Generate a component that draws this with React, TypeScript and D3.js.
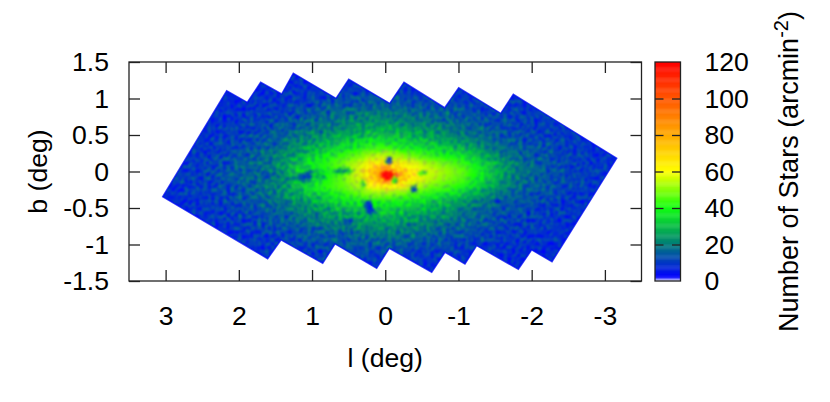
import React, { useEffect, useRef } from 'react'
import * as d3 from 'd3'

// l (deg) of each column and b (deg) of each row in densityRows
const lValues = [3.2, 3.0, 2.8, 2.6, 2.4, 2.2, 2.0, 1.8, 1.6, 1.4, 1.2, 1.0, 0.8, 0.6, 0.4, 0.2, 0, -0.2, -0.4, -0.6, -0.8, -1.0, -1.2, -1.4, -1.6, -1.8, -2.0, -2.2, -2.4, -2.6, -2.8, -3.0, -3.2]
const bValues = [1.4, 1.3, 1.2, 1.1, 1.0, 0.9, 0.8, 0.7, 0.6, 0.5, 0.4, 0.3, 0.2, 0.1, 0, -0.1, -0.2, -0.3, -0.4, -0.5, -0.6, -0.7, -0.8, -0.9, -1.0, -1.1, -1.2, -1.3, -1.4]

// stars per arcmin^2
const densityRows = [
  [7, 7, 7, 7, 7, 7, 7, 7, 7, 7, 7, 7, 7, 7, 7, 7, 7, 7, 7, 7, 7, 7, 7, 7, 7, 7, 7, 7, 7, 7, 7, 7, 7],
  [7, 7, 7, 7, 7, 7, 7, 7, 7, 8, 8, 8, 8, 8, 8, 8, 8, 8, 8, 8, 8, 8, 8, 8, 8, 8, 7, 7, 7, 7, 7, 7, 7],
  [7, 7, 7, 7, 7, 7, 7, 8, 8, 8, 9, 8, 9, 10, 9, 10, 9, 9, 9, 8, 8, 8, 8, 8, 8, 7, 7, 7, 7, 7, 7, 7, 7],
  [7, 7, 7, 7, 7, 7, 8, 8, 8, 9, 9, 10, 10, 11, 11, 11, 11, 11, 10, 10, 9, 10, 9, 9, 8, 8, 8, 7, 7, 7, 7, 7, 7],
  [7, 7, 7, 7, 7, 8, 8, 9, 9, 10, 10, 11, 12, 13, 13, 14, 14, 13, 12, 12, 11, 11, 10, 10, 9, 9, 8, 8, 8, 7, 7, 7, 7],
  [7, 7, 7, 7, 8, 8, 9, 9, 10, 10, 11, 12, 14, 15, 15, 16, 16, 15, 14, 13, 13, 12, 11, 11, 10, 10, 9, 9, 8, 8, 7, 7, 7],
  [7, 7, 7, 8, 8, 9, 9, 10, 11, 11, 13, 14, 16, 17, 18, 19, 19, 18, 17, 16, 15, 14, 13, 12, 11, 11, 10, 10, 9, 8, 8, 7, 7],
  [7, 7, 8, 8, 8, 9, 10, 11, 11, 13, 14, 16, 18, 19, 21, 22, 22, 21, 20, 19, 17, 16, 15, 13, 12, 12, 11, 10, 10, 9, 8, 8, 7],
  [7, 7, 8, 8, 9, 10, 10, 11, 13, 14, 16, 18, 20, 22, 24, 26, 26, 25, 23, 22, 20, 18, 16, 15, 13, 12, 11, 11, 10, 9, 9, 8, 7],
  [7, 8, 8, 9, 9, 10, 11, 12, 14, 15, 18, 21, 23, 26, 28, 30, 30, 29, 27, 25, 23, 20, 18, 16, 14, 13, 12, 11, 10, 10, 9, 8, 8],
  [7, 8, 8, 9, 10, 11, 12, 13, 15, 18, 21, 24, 27, 30, 33, 36, 36, 34, 32, 29, 27, 24, 21, 18, 16, 14, 13, 12, 11, 10, 9, 8, 8],
  [7, 8, 9, 9, 10, 11, 13, 14, 16, 20, 24, 28, 32, 36, 40, 44, 44, 41, 38, 35, 33, 30, 26, 21, 18, 15, 14, 13, 11, 10, 9, 9, 8],
  [8, 8, 9, 10, 11, 12, 14, 15, 18, 22, 27, 33, 38, 43, 47, 53, 56, 52, 47, 43, 40, 37, 32, 26, 21, 17, 15, 13, 12, 11, 10, 9, 8],
  [8, 8, 9, 10, 11, 13, 14, 16, 19, 24, 30, 36, 42, 47, 54, 65, 72, 66, 58, 52, 48, 44, 38, 31, 24, 19, 16, 14, 12, 11, 10, 9, 8],
  [8, 9, 10, 10, 12, 13, 15, 17, 18, 22, 30, 33, 38, 42, 56, 74, 92, 76, 62, 56, 52, 48, 41, 33, 26, 20, 17, 15, 13, 12, 11, 9, 8],
  [8, 9, 10, 11, 11, 13, 15, 16, 19, 21, 26, 31, 40, 46, 54, 70, 95, 80, 64, 54, 50, 46, 40, 32, 24, 19, 16, 14, 12, 11, 10, 9, 8],
  [8, 8, 9, 10, 11, 12, 14, 16, 19, 23, 29, 37, 42, 46, 51, 60, 67, 62, 54, 48, 45, 41, 34, 28, 22, 18, 15, 14, 12, 11, 10, 9, 8],
  [7, 8, 9, 10, 11, 12, 13, 15, 18, 22, 27, 32, 37, 41, 45, 49, 50, 47, 44, 41, 37, 33, 27, 22, 19, 15, 14, 13, 11, 10, 9, 8, 8],
  [7, 8, 8, 9, 10, 11, 13, 14, 16, 19, 23, 27, 31, 35, 37, 39, 40, 38, 36, 33, 30, 26, 22, 19, 16, 14, 13, 12, 10, 10, 9, 8, 7],
  [7, 8, 8, 9, 10, 11, 12, 13, 15, 17, 20, 23, 26, 29, 31, 33, 33, 32, 30, 28, 25, 22, 19, 16, 14, 13, 12, 11, 10, 9, 9, 8, 7],
  [7, 7, 8, 9, 9, 10, 11, 12, 14, 15, 18, 20, 23, 25, 26, 28, 29, 27, 26, 24, 22, 19, 16, 15, 13, 12, 11, 10, 10, 9, 8, 8, 7],
  [7, 7, 8, 8, 9, 10, 10, 11, 13, 14, 16, 18, 20, 21, 23, 24, 25, 24, 22, 20, 19, 17, 15, 14, 12, 11, 11, 10, 9, 8, 8, 7, 7],
  [7, 7, 7, 8, 8, 9, 10, 11, 12, 13, 14, 15, 17, 18, 19, 20, 21, 20, 19, 18, 16, 15, 14, 12, 11, 10, 10, 9, 9, 8, 7, 7, 7],
  [7, 7, 7, 8, 8, 9, 9, 10, 10, 11, 13, 14, 15, 15, 16, 17, 18, 17, 16, 15, 14, 13, 12, 11, 10, 10, 9, 9, 8, 8, 7, 7, 7],
  [7, 7, 7, 7, 8, 8, 9, 9, 10, 10, 11, 12, 13, 13, 14, 15, 15, 15, 14, 13, 12, 11, 11, 10, 9, 9, 8, 8, 8, 7, 7, 7, 7],
  [7, 7, 7, 7, 7, 8, 8, 8, 9, 9, 10, 10, 11, 11, 12, 12, 12, 12, 11, 11, 10, 10, 9, 9, 9, 8, 8, 8, 7, 7, 7, 7, 7],
  [7, 7, 7, 7, 7, 7, 7, 8, 8, 9, 9, 9, 10, 10, 10, 10, 10, 10, 10, 9, 9, 9, 9, 8, 8, 8, 7, 7, 7, 7, 7, 7, 7],
  [7, 7, 7, 7, 7, 7, 7, 7, 7, 8, 8, 8, 8, 8, 9, 9, 9, 9, 9, 8, 8, 8, 8, 8, 7, 7, 7, 7, 7, 7, 7, 7, 7],
  [7, 7, 7, 7, 7, 7, 7, 7, 7, 7, 7, 7, 7, 7, 7, 7, 7, 7, 7, 7, 7, 7, 7, 7, 7, 7, 7, 7, 7, 7, 7, 7, 7],
]

// survey outline in (l, b)
const footprintL = [3.04, 2.166, 1.885, 1.702, 1.415, 1.256, 0.673, 0.499, -0.06, -0.256, -0.812, -1.003, -1.577, -1.749, -2.296, -3.162, -2.278, -2.0, -1.818, -1.249, -1.089, -0.816, -0.635, -0.055, 0.117, 0.686, 0.854, 1.424, 1.606]
const footprintB = [-0.345, 1.107, 0.948, 1.222, 1.062, 1.345, 1.003, 1.263, 0.934, 1.222, 0.874, 1.148, 0.797, 1.058, 0.719, 0.181, -1.236, -1.075, -1.34, -1.016, -1.267, -1.107, -1.381, -1.052, -1.326, -0.992, -1.258, -0.938, -1.195]

// compact features: dark clouds and the central peak
const clumpL = [1.62, 1.12, 1.04, 0.89, 0.62, 0.5, -0.05, -0.39, 0.24, 0.2, -0.52, -0.13, 0.52, 0.58, -1.52, -1.62, 0.3, -0.04]
const clumpB = [-0.05, -0.08, -0.05, -0.05, 0, 0.01, 0.16, -0.24, -0.47, -0.53, -0.02, -0.11, -0.69, -0.87, -0.39, -0.49, -0.18, -0.05]
const clumpRadiusL = [0.07, 0.07, 0.06, 0.07, 0.09, 0.06, 0.04, 0.04, 0.05, 0.06, 0.07, 0.04, 0.05, 0.06, 0.05, 0.02, 0.03, 0.1]
const clumpRadiusB = [0.05, 0.05, 0.06, 0.03, 0.04, 0.03, 0.05, 0.05, 0.06, 0.04, 0.02, 0.04, 0.05, 0.04, 0.03, 0.02, 0.06, 0.06]
const clumpValue = [11, 10, 12, 24, 24, 28, 10, 13, 8, 6, 34, 34, 11, 11, 11, 5, 32, 120]

const xTicks = [3, 2, 1, 0, -1, -2, -3]
const yTicks = [-1.5, -1, -0.5, 0, 0.5, 1, 1.5]
const cbarTicks = [0, 20, 40, 60, 80, 100, 120]
const paletteStops = [0, 2, 20, 40, 60, 120]
const paletteColors = ['#f0f0ff', '#0000ff', '#007c78', '#10ff10', '#ffff00', '#ff0000']

const fontFamily = '"Liberation Sans", Arial, sans-serif'
const fontSize = 26.6

const App = () => {
  const ref = useRef<SVGSVGElement | null>(null)

  useEffect(() => {
    const svg = d3.select(ref.current)
    svg.selectAll('*').remove()

    const plot = { left: 129, right: 641.5, top: 62, bottom: 281 }
    const cbar = { left: 655, right: 680.5 }

    const xScale = d3.scaleLinear().domain([3.5, -3.5]).range([plot.left, plot.right])
    const yScale = d3.scaleLinear().domain([-1.5, 1.5]).range([plot.bottom, plot.top])
    const cScale = d3.scaleLinear<string>().domain(paletteStops).range(paletteColors).interpolate(d3.interpolateRgb)
    const cbarScale = d3.scaleLinear().domain([0, 120]).range([plot.bottom, plot.top])

    const defs = svg.append('defs')
    defs.append('clipPath').attr('id', 'footprint')
      .append('polygon')
      .attr('points', footprintL.map((l, i) => `${xScale(l)},${yScale(footprintB[i])}`).join(' '))
    defs.append('filter').attr('id', 'smooth')
      .attr('x', '-5%').attr('y', '-5%').attr('width', '110%').attr('height', '110%')
      .append('feGaussianBlur').attr('stdDeviation', '4.5 2.8')
    defs.append('filter').attr('id', 'soft')
      .attr('x', '-30%').attr('y', '-30%').attr('width', '160%').attr('height', '160%')
      .append('feGaussianBlur').attr('stdDeviation', '1.3')

    // photographic grain of the star counts, a texture only: the values stay in densityRows
    const grain = defs.append('filter').attr('id', 'grain')
      .attr('x', '0%').attr('y', '0%').attr('width', '100%').attr('height', '100%')
      .attr('color-interpolation-filters', 'sRGB')
    grain.append('feTurbulence')
      .attr('type', 'fractalNoise').attr('baseFrequency', 0.26).attr('numOctaves', 2).attr('seed', 4).attr('result', 'noise')
    grain.append('feDisplacementMap')
      .attr('in', 'SourceGraphic').attr('in2', 'noise').attr('scale', 6)
      .attr('xChannelSelector', 'R').attr('yChannelSelector', 'G').attr('result', 'moved')
    grain.append('feColorMatrix')
      .attr('in', 'noise').attr('type', 'matrix')
      .attr('values', '0 0 0 0 0.4  0.8 0 0 0 0  -0.8 0 0 0 0.8  0 0 0 0 1').attr('result', 'tint')
    grain.append('feComposite')
      .attr('in', 'moved').attr('in2', 'tint').attr('operator', 'arithmetic')
      .attr('k1', 0).attr('k2', 1).attr('k3', 1).attr('k4', -0.4).attr('result', 'mottled')
    grain.append('feGaussianBlur').attr('in', 'mottled').attr('stdDeviation', 0.8)

    // density map
    const map = svg.append('g').attr('clip-path', 'url(#footprint)').append('g').attr('filter', 'url(#grain)')
    const cells = map.append('g').attr('filter', 'url(#smooth)')
    const dl = 0.2
    const db = 0.1
    densityRows.forEach((row, r) => {
      row.forEach((v, c) => {
        cells.append('rect')
          .attr('x', xScale(lValues[c] + dl / 2))
          .attr('y', yScale(bValues[r] + db / 2))
          .attr('width', xScale(lValues[c] - dl / 2) - xScale(lValues[c] + dl / 2) + 0.5)
          .attr('height', yScale(bValues[r] - db / 2) - yScale(bValues[r] + db / 2) + 0.5)
          .attr('fill', cScale(v))
      })
    })
    const clumps = map.append('g').attr('filter', 'url(#soft)')
    clumpValue.forEach((v, i) => {
      clumps.append('ellipse')
        .attr('cx', xScale(clumpL[i]))
        .attr('cy', yScale(clumpB[i]))
        .attr('rx', xScale(0) - xScale(clumpRadiusL[i]))
        .attr('ry', yScale(0) - yScale(clumpRadiusB[i]))
        .attr('fill', cScale(v))
    })
    // low counts along the survey edge
    svg.append('polygon')
      .attr('points', footprintL.map((l, i) => `${xScale(l)},${yScale(footprintB[i])}`).join(' '))
      .attr('fill', 'none')
      .attr('stroke', cScale(3.5))
      .attr('stroke-width', 1.4)
      .attr('stroke-opacity', 0.75)

    // frame and axes
    svg.append('rect')
      .attr('x', plot.left).attr('y', plot.top)
      .attr('width', plot.right - plot.left).attr('height', plot.bottom - plot.top)
      .attr('fill', 'none').attr('stroke', '#222').attr('stroke-width', 1.3)

    const tickFmt = (d: d3.NumberValue) => String(d)
    const axes = [
      svg.append('g').attr('transform', `translate(0,${plot.bottom})`)
        .call(d3.axisBottom(xScale).tickValues(xTicks).tickFormat(tickFmt).tickSizeInner(-11).tickSizeOuter(0).tickPadding(25)),
      svg.append('g').attr('transform', `translate(0,${plot.top})`)
        .call(d3.axisTop(xScale).tickValues(xTicks).tickFormat(() => '').tickSizeInner(-11).tickSizeOuter(0)),
      svg.append('g').attr('transform', `translate(${plot.left},0)`)
        .call(d3.axisLeft(yScale).tickValues(yTicks).tickFormat(tickFmt).tickSizeInner(-11).tickSizeOuter(0).tickPadding(20)),
      svg.append('g').attr('transform', `translate(${plot.right},0)`)
        .call(d3.axisRight(yScale).tickValues(yTicks).tickFormat(() => '').tickSizeInner(-11).tickSizeOuter(0)),
    ]
    axes.forEach(a => {
      a.select('.domain').remove()
      a.selectAll('line').attr('stroke', '#222').attr('stroke-width', 1.3)
      a.selectAll('text').attr('fill', '#000').attr('font-size', fontSize).attr('font-family', fontFamily)
    })

    // colour bar
    const bar = svg.append('g')
    const steps = d3.range(0, 120, 0.5)
    bar.selectAll('rect').data(steps).enter().append('rect')
      .attr('x', cbar.left)
      .attr('y', d => cbarScale(d + 0.5))
      .attr('width', cbar.right - cbar.left)
      .attr('height', d => cbarScale(d) - cbarScale(d + 0.5) + 0.4)
      .attr('fill', d => cScale(d))
    svg.append('rect')
      .attr('x', cbar.left).attr('y', plot.top)
      .attr('width', cbar.right - cbar.left).attr('height', plot.bottom - plot.top)
      .attr('fill', 'none').attr('stroke', '#222').attr('stroke-width', 1.3)
    const cbarLeft = svg.append('g').attr('transform', `translate(${cbar.left},0)`)
      .call(d3.axisLeft(cbarScale).tickValues(cbarTicks.slice(1, -1)).tickFormat(() => '').tickSizeInner(-8.5).tickSizeOuter(0))
    const cbarRight = svg.append('g').attr('transform', `translate(${cbar.right},0)`)
      .call(d3.axisRight(cbarScale).tickValues(cbarTicks).tickFormat(tickFmt).tickSizeInner(-8.5).tickSizeOuter(0).tickPadding(24))
    ;[cbarLeft, cbarRight].forEach(a => {
      a.select('.domain').remove()
      a.selectAll('line').attr('stroke', '#222').attr('stroke-width', 1.3)
      a.selectAll('text').attr('fill', '#000').attr('font-size', fontSize).attr('font-family', fontFamily)
    })
    cbarRight.selectAll('line').filter((d: any) => d === 0 || d === 120).remove()

    // axis titles
    svg.append('text')
      .attr('x', xScale(0)).attr('y', 367)
      .attr('text-anchor', 'middle').attr('font-size', fontSize).attr('font-family', fontFamily)
      .text('l (deg)')
    svg.append('text')
      .attr('transform', `translate(47,${yScale(0)}) rotate(-90)`)
      .attr('text-anchor', 'middle').attr('font-size', fontSize).attr('font-family', fontFamily)
      .text('b (deg)')
    const title = svg.append('text')
      .attr('transform', `translate(798,${yScale(0)}) rotate(-90)`)
      .attr('text-anchor', 'middle').attr('font-size', 27).attr('font-family', fontFamily)
    title.append('tspan').text('Number of Stars (arcmin')
    title.append('tspan').attr('dy', -10).attr('font-size', 20).text('-2')
    title.append('tspan').attr('dy', 10).text(')')
  }, [])

  return (
    <svg ref={ref} width={830} height={402} style={{ position: 'absolute', left: 0, top: 0, background: '#fff' }}></svg>
  )
}

export default App
